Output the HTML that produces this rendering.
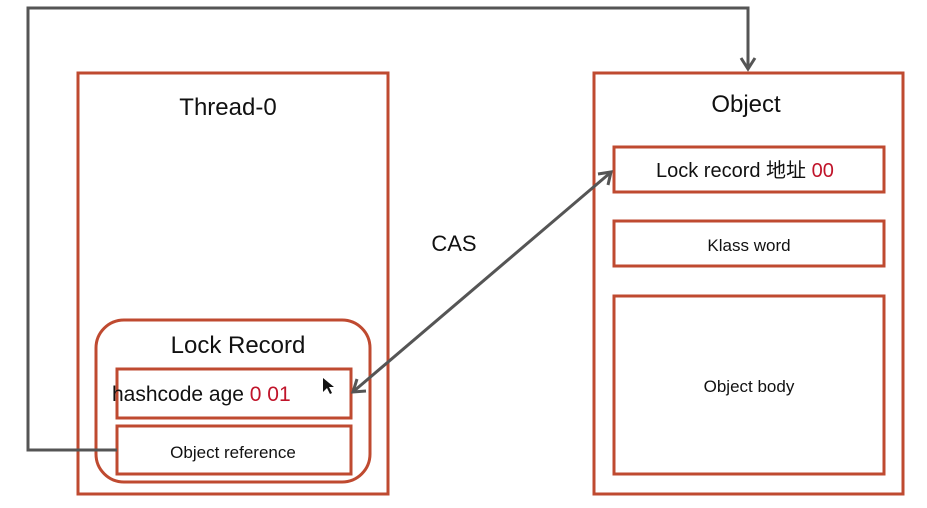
<!DOCTYPE html>
<html><head><style>body{margin:0;background:#fff}svg{display:block}text{font-family:"Liberation Sans","Noto Sans CJK SC",sans-serif;fill:#111}</style></head>
<body>
<svg width="927" height="508" viewBox="0 0 927 508" xmlns="http://www.w3.org/2000/svg">
<g fill="none" stroke="#bf4a30" stroke-width="3">
<rect x="78" y="73" width="310" height="421"/>
<rect x="594" y="73" width="309" height="421"/>
<rect x="96" y="320" width="274" height="162" rx="28"/>
<rect x="117" y="369" width="234" height="49"/>
<rect x="117" y="426" width="234" height="48"/>
<rect x="614" y="147" width="270" height="45"/>
<rect x="614" y="221" width="270" height="45"/>
<rect x="614" y="296" width="270" height="178"/>
</g>
<g fill="none" stroke="#555" stroke-width="3" stroke-linejoin="miter">
<polyline points="117,450 28,450 28,8 748,8 748,66"/>
<polyline points="741,58 748,69 755,58"/>
<line x1="354" y1="391" x2="610" y2="173"/>
<polyline points="598,174 611,172 608,185"/>
<polyline points="357,379 353,392 366,391"/>
</g>
<text x="228" y="115" font-size="24" text-anchor="middle">Thread-0</text>
<text x="746" y="112" font-size="24" text-anchor="middle">Object</text>
<text x="238" y="353" font-size="24" text-anchor="middle">Lock Record</text>
<text x="112" y="401" font-size="21">hashcode age <tspan fill="#c0142a">0 01</tspan></text>
<text x="233" y="458" font-size="17" text-anchor="middle">Object reference</text>
<text x="454" y="251" font-size="22" text-anchor="middle">CAS</text>
<text x="656" y="177" font-size="20">Lock record 地址 <tspan fill="#c0142a">00</tspan></text>
<text x="749" y="251" font-size="17" text-anchor="middle">Klass word</text>
<text x="749" y="392" font-size="17" text-anchor="middle">Object body</text>
<path d="M323 378 L323 392 L327 388 L330 394 L332 393 L329 387 L334 387 Z" fill="#111"/>
</svg>
</body></html>
